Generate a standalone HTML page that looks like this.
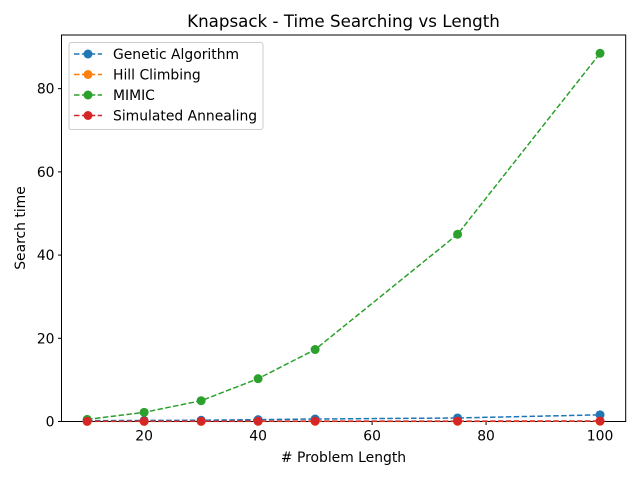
<!DOCTYPE html>
<html><head><meta charset="utf-8"><style>
body{margin:0;background:#fff}
svg text{font-family:"DejaVu Sans","Liberation Sans",sans-serif;fill:#000}
</style></head><body>
<svg id="chart" width="640" height="480" xmlns="http://www.w3.org/2000/svg"></svg>
<script>
const xs=[10,20,30,40,50,75,100];
const gaVals=[0.2,0.25,0.3,0.45,0.6,0.85,1.6];
const hcVals=[0.02,0.02,0.02,0.03,0.03,0.04,0.05];
const mimicVals=[0.5,2.2,5.0,10.3,17.3,45.0,88.5];
const saVals=[0.05,0.06,0.07,0.08,0.09,0.1,0.12];
const seriesNames=["Genetic Algorithm","Hill Climbing","MIMIC","Simulated Annealing"];
const xTicks=[20,40,60,80,100];
const yTicks=[0,20,40,60,80];
const colors=["#1f77b4","#ff7f0e","#2ca02c","#d62728"];
const L=61.5,R=625.7,T=35,B=421.5;
const xMin=5.5,xMax=104.5,yMin=0,yMax=92.9;
const sx=v=>L+(v-xMin)/(xMax-xMin)*(R-L);
const sy=v=>B-(v-yMin)/(yMax-yMin)*(B-T);
const svg=document.getElementById('chart');
const NS="http://www.w3.org/2000/svg";
function mk(t,a,p){const e=document.createElementNS(NS,t);for(const k in a)e.setAttribute(k,a[k]);(p||svg).appendChild(e);return e;}
let e;
e=mk('rect',{x:L,y:T,width:R-L,height:B-T,fill:'#fff',stroke:'#000','stroke-width':1});


xTicks.forEach(v=>{
  e=mk('line',{x1:sx(v),x2:sx(v),y1:B,y2:B+3.5,stroke:'#000'});
  
  
  e=mk('text',{x:sx(v),y:B+19,'text-anchor':'middle','font-size':13.9});e.textContent=v;
  
  
});
yTicks.forEach(v=>{
  e=mk('line',{x1:L-3.5,x2:L,y1:sy(v),y2:sy(v),stroke:'#000'});
  
  
  e=mk('text',{x:L-7,y:sy(v)+5,'text-anchor':'end','font-size':13.9});e.textContent=v;
  
  
});
const all=[gaVals,hcVals,mimicVals,saVals];
all.forEach((vals,i)=>{
  const g=mk('g',{});
  
  
  e=mk('polyline',{points:xs.map((x,j)=>sx(x)+','+sy(vals[j])).join(' '),fill:'none',stroke:colors[i],'stroke-width':1.5,'stroke-dasharray':'5.5,2.4'},g);
  
  
  xs.forEach((x,j)=>{
    e=mk('circle',{cx:sx(x),cy:sy(vals[j]),r:4.5,fill:colors[i]},g);
    
    
  });
});
e=mk('text',{x:343.5,y:27,'text-anchor':'middle','font-size':16.7});e.textContent='Knapsack - Time Searching vs Length';


e=mk('text',{x:343.5,y:462,'text-anchor':'middle','font-size':13.9});e.textContent='# Problem Length';


e=mk('text',{x:0,y:0,'text-anchor':'middle','font-size':13.9,transform:'translate(25,228) rotate(-90)'});e.textContent='Search time';


const lg=mk('g',{});


e=mk('rect',{x:69,y:42.5,width:194,height:87,rx:2.5,fill:'#fff','fill-opacity':0.8,stroke:'#ccc'},lg);


seriesNames.forEach((n,i)=>{
  const y=54+i*20.5;
  const g=mk('g',{},lg);
  
  
  mk('line',{x1:74,x2:102,y1:y,y2:y,stroke:colors[i],'stroke-width':1.5,'stroke-dasharray':'5.5,2.4'},g);
  mk('circle',{cx:88,cy:y,r:4.5,fill:colors[i]},g);
  const t=mk('text',{x:113,y:y+5,'font-size':13.9},g);t.textContent=n;
});
</script>
</body></html>
